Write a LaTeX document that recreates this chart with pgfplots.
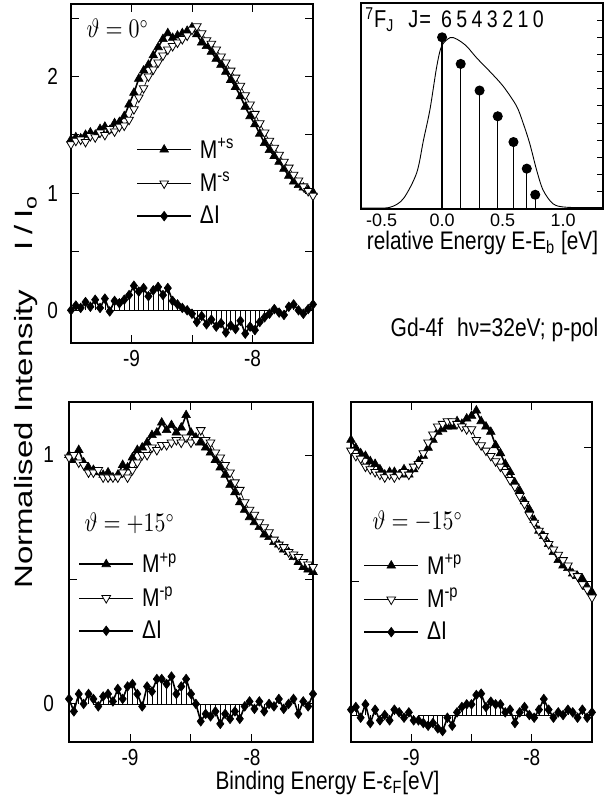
\documentclass[border=0pt]{standalone}
\usepackage{pgfplots}
\pgfplotsset{compat=1.18}
\usepackage{pgfplotstable}
\usepackage{graphicx}
\usepackage{fontspec}
\setmainfont{Liberation Sans}
\newcommand\vs[1]{\scalebox{1}[1.22]{#1}}

\pgfplotstableread{
x p m d
-9.50 1.46 1.42 0.00
-9.46 1.48 1.45 0.04
-9.42 1.47 1.46 0.02
-9.38 1.50 1.44 0.07
-9.34 1.52 1.49 0.03
-9.30 1.50 1.48 0.09
-9.26 1.55 1.52 0.02
-9.22 1.57 1.50 0.10
-9.18 1.54 1.55 -0.01
-9.14 1.60 1.53 0.08
-9.10 1.61 1.57 0.06
-9.06 1.66 1.58 0.09
-9.02 1.76 1.63 0.13
-8.98 1.86 1.72 0.21
-8.94 1.98 1.82 0.16
-8.90 2.05 1.90 0.19
-8.86 2.10 2.00 0.12
-8.82 2.18 2.06 0.17
-8.78 2.25 2.12 0.20
-8.74 2.32 2.18 0.13
-8.70 2.37 2.23 0.19
-8.66 2.33 2.26 0.08
-8.62 2.35 2.29 0.05
-8.58 2.37 2.32 0.02
-8.54 2.39 2.35 0.00
-8.50 2.42 2.40 -0.03
-8.46 2.36 2.43 -0.10
-8.42 2.29 2.37 -0.05
-8.38 2.26 2.31 -0.12
-8.34 2.21 2.28 -0.08
-8.30 2.15 2.23 -0.14
-8.26 2.10 2.17 -0.11
-8.22 2.04 2.12 -0.19
-8.18 1.97 2.05 -0.13
-8.14 1.91 1.99 -0.16
-8.10 1.83 1.92 -0.09
-8.06 1.74 1.84 -0.20
-8.02 1.66 1.76 -0.14
-7.98 1.59 1.68 -0.17
-7.94 1.51 1.60 -0.10
-7.90 1.43 1.52 -0.06
-7.86 1.37 1.45 -0.03
-7.82 1.32 1.39 0.01
-7.78 1.27 1.33 -0.02
-7.74 1.21 1.27 -0.04
-7.70 1.15 1.22 0.03
-7.66 1.10 1.16 0.05
-7.62 1.07 1.11 0.00
-7.58 1.05 1.06 -0.03
-7.54 1.03 1.02 0.01
-7.50 1.01 0.98 0.05
}\tabA

\pgfplotstableread{
x p m d
-9.50 1.00 0.99 0.02
-9.46 0.98 1.00 -0.03
-9.42 1.02 0.97 0.04
-9.38 0.97 0.96 0.00
-9.34 0.95 0.93 0.04
-9.30 0.94 0.93 0.02
-9.26 0.93 0.94 -0.01
-9.22 0.92 0.91 0.03
-9.18 0.93 0.91 0.04
-9.14 0.91 0.91 0.01
-9.10 0.92 0.91 0.06
-9.06 0.96 0.93 0.02
-9.02 0.95 0.91 0.07
-8.98 0.99 0.94 0.08
-8.94 1.02 0.97 0.04
-8.90 1.03 1.00 -0.01
-8.86 1.05 1.00 0.07
-8.82 1.08 1.03 0.05
-8.78 1.09 1.02 0.10
-8.74 1.13 1.04 0.10
-8.70 1.10 1.04 0.08
-8.66 1.12 1.05 0.11
-8.62 1.09 1.06 0.04
-8.58 1.11 1.05 0.07
-8.54 1.16 1.07 0.10
-8.50 1.09 1.05 0.04
-8.46 1.07 1.06 0.00
-8.42 1.05 1.10 -0.07
-8.38 1.03 1.06 -0.04
-8.34 1.01 1.05 -0.05
-8.30 0.98 1.01 -0.03
-8.26 0.95 0.99 -0.08
-8.22 0.92 0.96 -0.04
-8.18 0.88 0.93 -0.06
-8.14 0.85 0.89 -0.03
-8.10 0.81 0.86 -0.06
-8.06 0.78 0.81 -0.01
-8.02 0.75 0.78 0.01
-7.98 0.73 0.76 -0.02
-7.94 0.71 0.73 0.01
-7.90 0.68 0.71 -0.03
-7.86 0.67 0.69 0.00
-7.82 0.65 0.66 -0.01
-7.78 0.64 0.64 0.02
-7.74 0.62 0.63 -0.02
-7.70 0.61 0.61 0.00
-7.66 0.59 0.60 0.02
-7.62 0.57 0.59 -0.04
-7.58 0.55 0.57 0.01
-7.54 0.54 0.56 -0.01
-7.50 0.53 0.55 0.04
}\tabC

\pgfplotstableread{
x p m d
-9.50 1.03 0.99 0.02
-9.46 1.00 0.97 0.03
-9.42 0.98 0.96 -0.01
-9.38 0.97 0.93 0.04
-9.34 0.95 0.92 -0.03
-9.30 0.94 0.91 0.02
-9.26 0.92 0.90 -0.02
-9.22 0.90 0.89 0.00
-9.18 0.91 0.90 -0.02
-9.14 0.91 0.89 0.02
-9.10 0.90 0.90 0.01
-9.06 0.92 0.91 -0.01
-9.02 0.90 0.90 0.01
-8.98 0.92 0.93 -0.02
-8.94 0.95 0.94 -0.02
-8.90 0.97 0.98 -0.03
-8.86 1.00 1.02 -0.04
-8.82 1.03 1.05 -0.03
-8.78 1.06 1.08 -0.05
-8.74 1.07 1.09 -0.06
-8.70 1.08 1.10 -0.01
-8.66 1.08 1.10 -0.04
-8.62 1.10 1.09 0.01
-8.58 1.09 1.08 0.03
-8.54 1.11 1.07 0.04
-8.50 1.12 1.07 0.04
-8.46 1.14 1.03 0.075
-8.42 1.10 1.01 0.08
-8.38 1.08 0.99 0.03
-8.34 1.06 0.97 0.05
-8.30 1.01 0.95 0.04
-8.26 0.98 0.93 0.04
-8.22 0.94 0.91 0.01
-8.18 0.91 0.88 0.02
-8.14 0.87 0.855 -0.03
-8.10 0.84 0.82 0.01
-8.06 0.80 0.79 0.03
-8.02 0.77 0.75 0.00
-7.98 0.73 0.72 -0.01
-7.94 0.69 0.69 0.02
-7.90 0.67 0.67 0.06
-7.86 0.64 0.64 0.02
-7.82 0.61 0.62 -0.01
-7.78 0.58 0.60 0.01
-7.74 0.56 0.58 0.00
-7.70 0.55 0.56 0.02
-7.66 0.53 0.53 0.01
-7.62 0.52 0.52 -0.01
-7.58 0.51 0.49 0.02
-7.54 0.48 0.47 -0.01
-7.50 0.46 0.44 0.01
}\tabD

\pgfplotstableread{
e s
-0.67 0.005
-0.59 0.005
-0.43 0.01
-0.32 0.06
-0.21 0.21
-0.154 0.40
-0.10 0.58
-0.044 0.83
-0.003 0.95
0.066 0.998
0.12 0.99
0.20 0.95
0.286 0.88
0.396 0.80
0.505 0.715
0.615 0.60
0.67 0.50
0.725 0.38
0.78 0.23
0.835 0.11
0.918 0.03
1.03 0.01
1.33 0.008
}\tabCurve

\pgfplotstableread{
e h
0.00 1.00
0.154 0.845
0.31 0.69
0.46 0.54
0.59 0.39
0.70 0.235
0.77 0.083
}\tabSticks

\pgfplotsset{
  spec/.style={
    scale only axis, clip=false,
    axis line style={line width=0.6pt},
    tick align=inside,
    major tick length=4pt, minor tick length=4pt,
    every tick/.style={black, line width=0.5pt},
    xmin=-9.5, xmax=-7.5,
    xtick={-9,-8}, xticklabels={\vs{-9},\vs{-8}},
    minor xtick={-8.5},
    ticklabel style={font=\fontsize{9.5}{11}\selectfont},
    yticklabel style={xshift=-3pt},
    legend cell align=left,
    legend image code/.code={\draw[mark repeat=2,mark phase=2,##1] plot coordinates {(0pt,0pt) (13.5pt,0pt) (27pt,0pt)};},
    legend style={draw=none, fill=none, inner sep=0pt, anchor=west,
      font=\fontsize{10.5}{12}\selectfont, row sep=3.6pt,
      nodes={inner sep=1pt},
      /tikz/every odd column/.append style={column sep=3pt}},
  },
  pplus/.style={black, line width=0.8pt, mark=triangle*, mark size=2.5pt, mark options={solid, line width=0.3pt}},
  pminus/.style={black, line width=0.35pt, mark=triangle*, mark size=2.5pt, mark options={solid, rotate=180, fill=white, draw=black, line width=0.4pt}},
  pdelta/.style={black, line width=0.8pt, mark=diamond*, mark size=2.4pt, mark options={solid, line width=0.3pt}},
  pcomb/.style={ycomb, black, line width=0.3pt, no marks, forget plot},
}

\begin{document}
\begin{tikzpicture}
\useasboundingbox (0,0) rectangle (303.5pt,398pt);

% Panel A
\begin{axis}[spec, at={(35.5pt,226.5pt)}, anchor=south west, width=121pt, height=169.5pt,
  ymin=-0.28, ymax=2.62, ytick={0,1,2}, yticklabels={\vs{0},\vs{1},\vs{2}}, minor ytick={0.5,1.5,2.5},
  legend style={at={(axis cs:-8.963,1.095)}}]
\addplot[pcomb] table[x=x,y=d] {\tabA};
\addplot[black, line width=0.4pt, forget plot] coordinates {(-9.18,0) (-7.82,0)};
\addplot[pplus] table[x=x,y=p] {\tabA};
\addplot[pminus] table[x=x,y=m] {\tabA};
\addplot[pdelta] table[x=x,y=d] {\tabA};
\legend{\vs{M\textsuperscript{+s}},\vs{M\textsuperscript{-s}},\vs{ΔI}}
\node[anchor=base west, font=\fontsize{10.5}{12}\selectfont] at (axis cs:-9.43,2.33) {\vs{$\vartheta = 0^\circ$}};
\end{axis}

% Panel B (inset)
\begin{axis}[scale only axis, clip=false, at={(180.5pt,293.5pt)}, anchor=south west, width=121pt, height=103pt,
  axis line style={line width=0.6pt},
  xmin=-0.67, xmax=1.33, ymin=0, ymax=1.2,
  xtick={-0.5,0,0.5,1}, xticklabels={-0.5,0.0,0.5,1.0},
  x tick style={draw=none},
  xticklabel style={inner sep=1pt, yshift=-1.5pt},
  ytick={0.1,0.2,0.3,0.4,0.5,0.6,0.7,0.8,0.9,1.0,1.1}, yticklabels={},
  ytick pos=right, tick align=inside, major tick length=3pt,
  y tick style={black, line width=0.5pt},
  ticklabel style={font=\fontsize{9}{10}\selectfont}]
\addplot[black, line width=0.45pt, smooth] table[x=e,y=s] {\tabCurve};
\addplot[ycomb, black, line width=0.6pt, mark=*, mark size=2.2pt] table[x=e,y=h] {\tabSticks};
\end{axis}

% Panel C
\begin{axis}[spec, at={(34.5pt,27pt)}, anchor=south west, width=122pt, height=170pt,
  ymin=-0.153, ymax=1.213, ytick={0,1}, yticklabels={\vs{0},\vs{1}}, minor ytick={0.5},
  yticklabel style={xshift=-1pt},
  legend style={at={(axis cs:-9.426,0.43)}}]
\addplot[pcomb] table[x=x,y=d] {\tabC};
\addplot[black, line width=0.4pt, forget plot] coordinates {(-9.30,0) (-8.02,0)};
\addplot[pplus] table[x=x,y=p] {\tabC};
\addplot[pminus] table[x=x,y=m] {\tabC};
\addplot[pdelta] table[x=x,y=d] {\tabC};
\legend{\vs{M\textsuperscript{+p}},\vs{M\textsuperscript{-p}},\vs{ΔI}}
\node[anchor=base west, font=\fontsize{10.5}{12}\selectfont] at (axis cs:-9.43,0.691) {\vs{$\vartheta = +15^\circ$}};
\end{axis}

% Panel D
\begin{axis}[spec, at={(175.5pt,27pt)}, anchor=south west, width=120.5pt, height=170pt,
  ymin=-0.101, ymax=1.172, ytick={0,1}, yticklabels={}, minor ytick={0.5},
  legend style={at={(axis cs:-9.40,0.437)}}]
\addplot[pcomb] table[x=x,y=d] {\tabD};
\addplot[black, line width=0.4pt, forget plot] coordinates {(-8.94,0) (-7.82,0)};
\addplot[pplus] table[x=x,y=p] {\tabD};
\addplot[pminus] table[x=x,y=m] {\tabD};
\addplot[pdelta] table[x=x,y=d] {\tabD};
\legend{\vs{M\textsuperscript{+p}},\vs{M\textsuperscript{-p}},\vs{ΔI}}
\node[anchor=base west, font=\fontsize{10.5}{12}\selectfont] at (axis cs:-9.38,0.693) {\vs{$\vartheta = -15^\circ$}};
\end{axis}

% Free text
\node[anchor=base, rotate=90, inner sep=0pt] at (16.5pt,202pt)
  {\scalebox{1.32}[1]{\fontsize{12.5}{14}\selectfont Normalised Intensity\hspace{15pt}I\hspace{2.5pt}/\hspace{2.5pt}I\textsubscript{o}}};
\node[anchor=base, inner sep=0pt, font=\fontsize{10.4}{12}\selectfont] at (163.75pt,3pt)
  {\vs{Binding Energy E-ε\textsubscript{F}[eV]}};
\node[anchor=base, inner sep=0pt, font=\fontsize{10.5}{12}\selectfont] at (247.25pt,229.7pt)
  {\vs{Gd-4f\hspace{7pt}hν=32eV; p-pol}};
\node[anchor=base, inner sep=0pt, font=\fontsize{10.4}{12}\selectfont] at (241.25pt,273.3pt)
  {\vs{relative Energy E-E\textsubscript{b} [eV]}};
\node[anchor=base west, inner sep=0pt, font=\fontsize{10}{12}\selectfont] at (182.5pt,384pt)
  {\vs{\textsuperscript{7}F\textsubscript{J}\hspace{7pt}J\hspace{0.5pt}=\hspace{5pt}{\fontsize{9.8}{12}\selectfont 6\hspace{2.2pt}5\hspace{2.2pt}4\hspace{2.2pt}3\hspace{2.2pt}2\hspace{2.2pt}1\hspace{2.2pt}0}}};
\end{tikzpicture}
\end{document}
